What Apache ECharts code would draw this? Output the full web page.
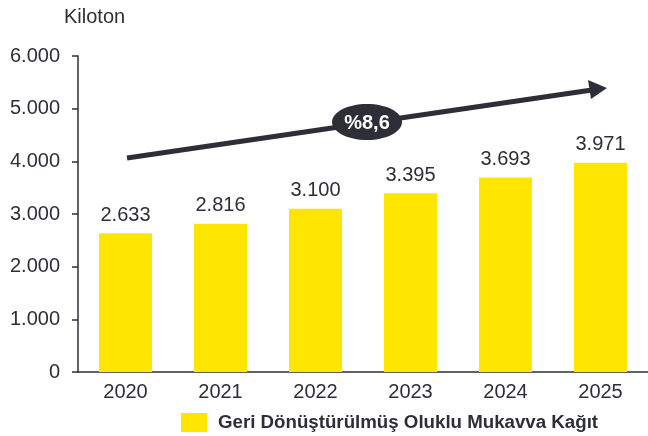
<!DOCTYPE html>
<html><head><meta charset="utf-8">
<script src="https://cdn.jsdelivr.net/npm/echarts@6/dist/echarts.min.js"></script>
<style>html,body{margin:0;padding:0;background:#fff}#c{width:648px;height:436px}</style>
</head><body><div id="c"></div>
<script>
const categories = ['2020','2021','2022','2023','2024','2025'];
const values = [2633, 2816, 3100, 3395, 3693, 3971];
const yTicks = [0,1000,2000,3000,4000,5000,6000];
const seriesName = 'Geri Dönüştürülmüş Oluklu Mukavva Kağıt';
const growthLabel = '%8,6';
const unitLabel = 'Kiloton';

const fmt = v => String(v).replace(/\B(?=(\d{3})+(?!\d))/g, '.');
const txt = '#2e2e38';
const FF = 'Liberation Sans, Arial, sans-serif';
const chart = echarts.init(document.getElementById('c'));
chart.setOption({
  animation: false,
  textStyle: {fontFamily: FF},
  grid: {left: 78, right: -6, top: 56, bottom: 64, containLabel: false},
  legend: {
    data: [seriesName], left: 181, top: 413, itemWidth: 26, itemHeight: 19, itemGap: 10,
    icon: 'rect', padding: 0,
    textStyle: {fontSize: 18.7, fontWeight: 'bold', color: txt, fontFamily: FF, padding: [0, 0, 0, 6]}
  },
  xAxis: {
    type: 'category', data: categories,
    axisLine: {lineStyle: {color: txt, width: 1.5}},
    axisTick: {show: false},
    axisLabel: {fontSize: 20, color: txt, margin: 10}
  },
  yAxis: {
    type: 'value', min: 0, max: 6000, interval: 1000,
    splitLine: {show: false},
    axisLine: {show: true, lineStyle: {color: txt, width: 1.5}},
    axisTick: {show: true, length: 6, inside: false, lineStyle: {color: txt, width: 1.5}},
    axisLabel: {fontSize: 20, color: txt, margin: 18, formatter: v => yTicks.includes(v) ? fmt(v) : ''}
  },
  series: [{
    name: seriesName, type: 'bar', data: values, barWidth: 53,
    itemStyle: {color: '#FFE600'},
    label: {show: true, position: 'top', distance: 8, fontSize: 20, color: txt, formatter: p => fmt(p.value)}
  }],
  graphic: [
    {type: 'text', left: 64, top: 7, style: {text: unitLabel, fontSize: 20, fill: txt, fontFamily: FF}},
    {type: 'line', shape: {x1: 127, y1: 158, x2: 592, y2: 90}, style: {stroke: '#2e2e38', lineWidth: 5}},
    {type: 'polygon', shape: {points: [[607, 88], [588, 80], [591, 99]]}, style: {fill: '#2e2e38'}},
    {type: 'ellipse', shape: {cx: 367, cy: 122, rx: 35, ry: 18}, style: {fill: '#2e2e38'}},
    {type: 'text', x: 367, y: 123, style: {text: growthLabel, fontSize: 20, fontWeight: 'bold', fill: '#fff', align: 'center', verticalAlign: 'middle', fontFamily: FF}}
  ]
});
</script></body></html>
